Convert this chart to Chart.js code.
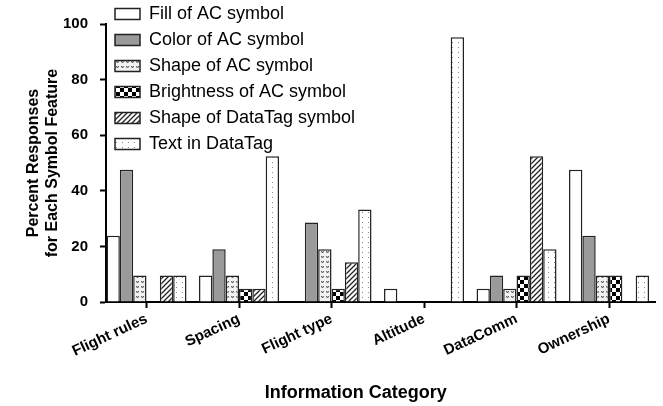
<!DOCTYPE html>
<html><head><meta charset="utf-8">
<script src="https://cdn.jsdelivr.net/npm/chart.js@4.4.0/dist/chart.umd.min.js"></script>
<style>html,body{margin:0;padding:0;background:#fff}</style>
</head><body>
<canvas id="c" width="663" height="406"></canvas>
<script>
const categories = ['Flight rules', 'Spacing', 'Flight type', 'Altitude', 'DataComm', 'Ownership'];
const seriesNames = ['Fill of AC symbol', 'Color of AC symbol', 'Shape of AC symbol', 'Brightness of AC symbol', 'Shape of DataTag symbol', 'Text in DataTag'];
const fillAC       = [23.8,  9.5,  0.0,  4.8,  4.8, 47.6];
const colorAC      = [47.6, 19.0, 28.6,  0.0,  9.5, 23.8];
const shapeAC      = [ 9.5,  9.5, 19.0,  0.0,  4.8,  9.5];
const brightnessAC = [ 0.0,  4.8,  4.8,  0.0,  9.5,  9.5];
const shapeDataTag = [ 9.5,  4.8, 14.3,  0.0, 52.4,  0.0];
const textDataTag  = [ 9.5, 52.4, 33.3, 95.2, 19.0,  9.5];
const yTicks = [0, 20, 40, 60, 80, 100];
const xTitle = 'Information Category';
const yTitle = ['Percent Responses', 'for Each Symbol Feature'];

const FONT = 'Arial, "Liberation Sans", sans-serif';
Chart.defaults.font.family = FONT;
Chart.defaults.color = '#000';

function makePattern(w, h, bg, draw) {
  const c = document.createElement('canvas');
  c.width = w; c.height = h;
  const x = c.getContext('2d');
  x.fillStyle = bg; x.fillRect(0, 0, w, h);
  draw(x);
  return x.createPattern(c, 'repeat');
}
const pWhite = '#ffffff';
const pGray = '#9a9a9a';
const pShape = makePattern(5, 5, '#f2f2f2', x => {
  x.fillStyle = '#666';
  x.fillRect(1, 1, 1, 1); x.fillRect(3, 1, 1, 1); x.fillRect(2, 2, 1, 1);
  x.fillStyle = '#bbb';
  x.fillRect(2, 1, 1, 1); x.fillRect(1, 2, 1, 1); x.fillRect(3, 2, 1, 1);
});
const pChecker = makePattern(8, 8, '#fff', x => {
  x.fillStyle = '#000';
  x.fillRect(0, 0, 4, 4); x.fillRect(4, 4, 4, 4);
});
const pHatch = makePattern(5, 5, '#fff', x => {
  x.strokeStyle = '#222'; x.lineWidth = 1.3;
  x.beginPath();
  x.moveTo(-1, 1); x.lineTo(1, -1);
  x.moveTo(0, 5); x.lineTo(5, 0);
  x.moveTo(4, 6); x.lineTo(6, 4);
  x.stroke();
});
const pDots = makePattern(6, 5, '#fff', x => {
  x.fillStyle = '#888';
  x.fillRect(2, 2, 1, 1);
});

const fills = [pWhite, pGray, pShape, pChecker, pHatch, pDots];
const seriesData = [fillAC, colorAC, shapeAC, brightnessAC, shapeDataTag, textDataTag];

const legendShift = {
  id: 'legendShift',
  afterLayout(chart) {
    const lg = chart.legend;
    if (!lg) return;
    const h = lg.bottom - lg.top;
    const w = lg.right - lg.left;
    lg.top = chart.chartArea.top - 27;
    lg.bottom = lg.top + h;
    lg.left = chart.chartArea.left + 1;
    lg.right = lg.left + w;
  }
};

const xTitlePlugin = {
  id: 'xTitlePlugin',
  afterDraw(chart) {
    const { ctx, chartArea } = chart;
    ctx.save();
    ctx.font = 'bold 18px ' + FONT;
    ctx.fillStyle = '#000';
    ctx.textAlign = 'center';
    ctx.textBaseline = 'middle';
    ctx.fillText(xTitle, chartArea.left + chartArea.width * 0.455, chart.height - 13);
    ctx.restore();
  }
};

new Chart(document.getElementById('c'), {
  type: 'bar',
  data: {
    labels: categories,
    datasets: seriesNames.map((n, i) => ({
      label: n,
      data: seriesData[i],
      backgroundColor: fills[i],
      borderColor: '#222',
      borderWidth: 1.5,
      barPercentage: 1.0,
      categoryPercentage: 0.865
    }))
  },
  options: {
    responsive: false,
    animation: false,
    layout: { padding: { top: 24, right: 8, left: 0, bottom: 0 } },
    plugins: {
      legend: {
        position: 'chartArea',
        align: 'start',
        labels: { boxWidth: 25, boxHeight: 11, padding: 8, color: '#000', font: { size: 18 } }
      },
      tooltip: { enabled: false }
    },
    scales: {
      x: {
        offset: true,
        afterBuildTicks: s => { s._startValue = -0.438; s._valueRange = 5.935; },
        afterFit: s => { s.height = 104; },
        grid: { display: true, drawOnChartArea: false, drawTicks: true, tickLength: 6, tickWidth: 2, tickColor: '#000', offset: false },
        border: { display: true, color: '#000', width: 2 },
        ticks: { autoSkip: false, minRotation: 25, maxRotation: 25, padding: 2, color: '#000', font: { size: 15, weight: 'bold' } },
        title: { display: false, text: xTitle }
      },
      y: {
        min: 0, max: 100,
        afterBuildTicks: s => { s.ticks = yTicks.map(v => ({ value: v })); },
        afterFit: s => { s.width = 106; },
        grid: { display: true, drawOnChartArea: false, drawTicks: true, tickLength: 6, tickWidth: 2, tickColor: '#000' },
        border: { display: true, color: '#000', width: 2 },
        ticks: { padding: 12, color: '#000', font: { size: 15, weight: 'bold' } },
        title: { display: true, text: yTitle, color: '#000', font: { size: 16, weight: 'bold' }, padding: { top: 24, bottom: 0 } }
      }
    }
  },
  plugins: [legendShift, xTitlePlugin]
});
</script>
</body></html>
